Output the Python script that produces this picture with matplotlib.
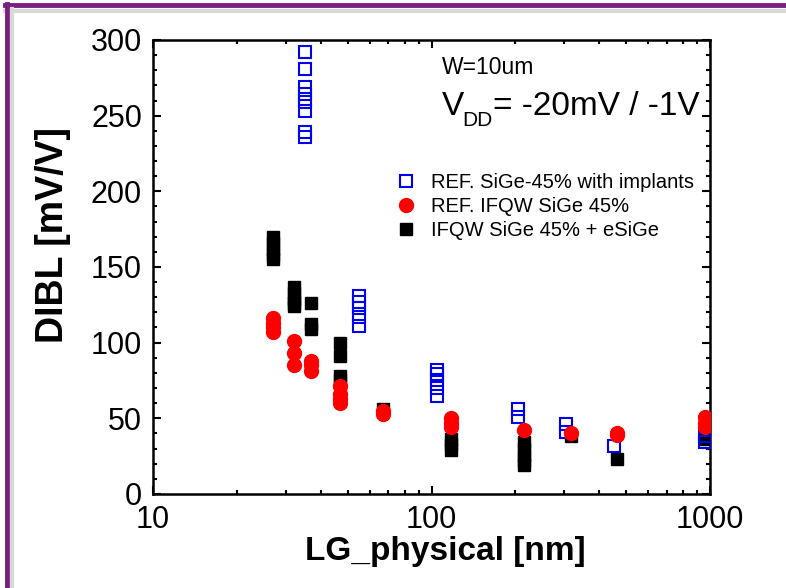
import numpy as np
import matplotlib
matplotlib.use("Agg")
import matplotlib.pyplot as plt
from matplotlib.lines import Line2D
from matplotlib.ticker import MultipleLocator, LogLocator, NullFormatter

plt.rcParams['font.family'] = ['Liberation Sans', 'DejaVu Sans']

# REF. SiGe-45% with implants (open blue squares)
blue_x = [35] * 8 + [55] * 5 + [105] * 5 + [204] * 2 + [303] * 2 + [453] + [960] * 2
blue_y = [292, 281, 269, 264, 259, 253, 239, 236,
          131, 127, 123, 117, 111,
          82, 79, 75, 70, 65,
          56, 51,
          46, 41,
          32,
          38, 34]

# REF. IFQW SiGe 45% (red circles)
red_x = [27] * 4 + [32] * 3 + [37] * 3 + [47] * 4 + [67] * 2 + [117] * 3 + [215] + [316] + [465] * 2 + [960] * 3
red_y = [116, 113, 110, 107,
         101, 93, 85,
         88, 85, 81,
         71, 66, 63, 60,
         55, 53,
         50, 47, 44,
         42,
         40,
         40, 39,
         51, 47, 44]

# IFQW SiGe 45% + eSiGe (black squares)
black_x = [27] * 5 + [32] * 5 + [37] * 3 + [47] * 4 + [67] + [117] * 3 + [215] * 5 + [316] + [465] + [960] * 2
black_y = [170, 166, 162, 158, 155,
           137, 133, 129, 126, 124,
           126, 112, 109,
           100, 91, 78, 75,
           56,
           36, 33, 29,
           34, 30, 26, 22, 19,
           38,
           23,
           40, 36]

labels = ['REF. SiGe-45% with implants', 'REF. IFQW SiGe 45%', 'IFQW SiGe 45% + eSiGe']

fig = plt.figure(figsize=(7.86, 5.88), dpi=100)
ax = fig.add_axes([0.1947, 0.160, 0.7087, 0.772])

ax.plot(black_x, black_y, 's', color='black', ms=9, ls='none', zorder=3, label=labels[2])
ax.plot(blue_x, blue_y, 's', mfc='none', mec='#0000ee', mew=1.5, ms=8.5, ls='none', zorder=4, label=labels[0])
ax.plot(red_x, red_y, 'o', color='#ff0000', ms=10, ls='none', zorder=5, label=labels[1])

ax.set_xscale('log')
ax.set_xlim(10, 1000)
ax.set_ylim(0, 300)
ax.yaxis.set_major_locator(MultipleLocator(50))
ax.yaxis.set_minor_locator(MultipleLocator(10))
ax.xaxis.set_minor_locator(LogLocator(base=10, subs=np.arange(2, 10)))
ax.xaxis.set_minor_formatter(NullFormatter())
ax.set_xticks([10, 100, 1000])
ax.set_xticklabels(['10', '100', '1000'])

ax.tick_params(which='both', direction='in', top=True, right=True, width=1.5, labelsize=22)
ax.tick_params(which='major', length=6)
ax.tick_params(which='minor', length=3)
ax.tick_params(axis='y', pad=8)
ax.tick_params(axis='x', pad=8)
for s in ax.spines.values():
    s.set_linewidth(1.8)

ax.set_xlabel('LG_physical [nm]', fontsize=24, fontweight='bold')
ax.set_ylabel('DIBL [mV/V]', fontsize=27, fontweight='bold')
ax.xaxis.set_label_coords(0.524, -0.093)
ax.yaxis.set_label_coords(-0.148, 0.57)

ax.text(0.519, 0.940, 'W=10um', transform=ax.transAxes, fontsize=16.5, va='center', ha='left')
# V_DD line built from three pieces to match the low subscript
ax.text(0.519, 0.835, 'V', transform=ax.transAxes, fontsize=24, va='baseline', ha='left')
ax.text(0.556, 0.811, 'DD', transform=ax.transAxes, fontsize=15, va='baseline', ha='left')
ax.text(0.610, 0.835, '= -20mV / -1V', transform=ax.transAxes, fontsize=24, va='baseline', ha='left')

h, l = ax.get_legend_handles_labels()
order = [1, 2, 0]
ax.legend([h[i] for i in order], [l[i] for i in order], loc='upper left',
          bbox_to_anchor=(0.418, 0.73), frameon=False, fontsize=14.5,
          handletextpad=0.75, labelspacing=0.27, handlelength=1.0, borderpad=0)

# slide frame (purple border with light shadow)
fig.add_artist(Line2D([0.006, 1.0], [0.9915, 0.9915], color='#7a1f7e', lw=3.5, transform=fig.transFigure))
fig.add_artist(Line2D([0.006, 1.0], [0.982, 0.982], color='#d8d8d8', lw=3, transform=fig.transFigure))
fig.add_artist(Line2D([0.0095, 0.0095], [0.0, 0.994], color='#7a1f7e', lw=3.5, transform=fig.transFigure))
fig.add_artist(Line2D([0.0155, 0.0155], [0.0, 0.985], color='#d8d8d8', lw=3, transform=fig.transFigure))

fig.savefig('out.png', dpi=100)
